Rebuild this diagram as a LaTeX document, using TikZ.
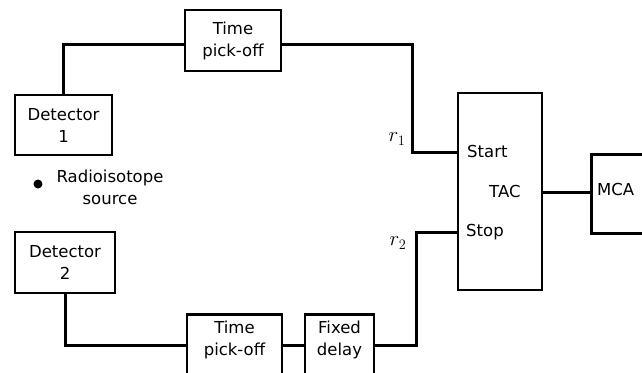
\documentclass[tikz,border=0pt]{standalone}
\usepackage{fontspec}
\setmainfont{DejaVu Sans}
\begin{document}
\begin{tikzpicture}[x=1pt,y=-1pt,
  box/.style={draw, line width=2.8pt, rectangle, inner sep=0pt, align=center,
    font=\fontsize{16.5}{22}\selectfont},
  wire/.style={line width=3pt},
  lbl/.style={inner sep=0pt, font=\fontsize{16.5}{22}\selectfont},
]
\useasboundingbox (0,0) rectangle (642,372);
\clip (0,0) rectangle (642,372);
\fill[white] (0,0) rectangle (642,372);
\node[box, minimum width=96pt, minimum height=61pt] (tpo1) at (233,40.5) {Time\\pick-off};
\node[box, minimum width=97pt, minimum height=60pt] (det1) at (63.5,125) {Detector\\1};
\node[box, minimum width=100pt, minimum height=61pt] (det2) at (65,262.5) {Detector\\2};
\node[box, minimum width=95pt, minimum height=74pt, anchor=north] (tpo2) at (234.5,313) {};
\node[box, minimum width=69pt, minimum height=74pt, anchor=north] (delay) at (339.5,313) {};
\node[lbl, align=center] (tpo2t) at (234.5,340) {Time\\pick-off};
\node[lbl, align=center] (delayt) at (339.5,340) {Fixed\\delay};
\node[box, minimum width=84pt, minimum height=197pt] (tac) at (500,191.5) {};
\node[box, minimum width=70pt, minimum height=79pt, anchor=north west] (mca) at (590,153) {};
\node[lbl, anchor=north west] (mcat) at (597,183) {MCA};
\node[lbl, anchor=west] (start) at (467,151) {Start};
\node[lbl, anchor=west] (tact) at (489,191) {TAC};
\node[lbl, anchor=west] (stop) at (466,232) {Stop};
\node[lbl, font=\fontsize{20}{22}\selectfont] (r1) at (397,139) {$r_1$};
\node[lbl, font=\fontsize{20}{22}\selectfont] (r2) at (398,243) {$r_2$};
\fill (38,184) circle (4.5pt);
\node[lbl, align=center] (src) at (110,187) {Radioisotope\\source};
% wires
\coordinate (a1) at (63.5,44);
\coordinate (c1) at (412,152);
\coordinate (c2) at (416,232);
\coordinate (b1) at (65,345);
\draw[wire] (det1.north) -- (a1) -- (tpo1.west |- a1);
\draw[wire] (tpo1.east |- a1) -| (c1) -- (tac.west |- c1);
\draw[wire] (det2.south) -- (b1) -- (tpo2.west |- b1);
\draw[wire] (tpo2.east |- b1) -- (delay.west |- b1);
\draw[wire] (delay.east |- b1) -| (c2) -- (tac.west |- c2);
\draw[wire] (tac.east |- 0,192) -- (mca.west |- 0,192);
\end{tikzpicture}
\end{document}
